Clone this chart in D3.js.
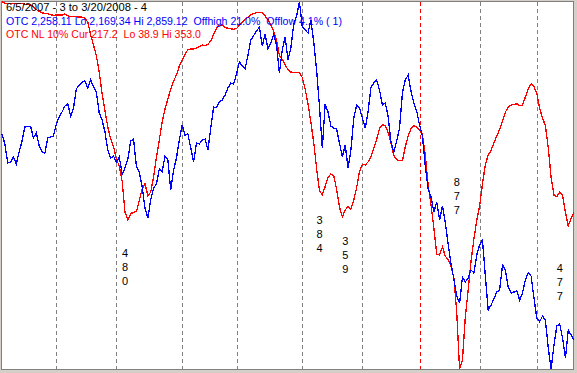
<!DOCTYPE html>
<html><head><meta charset="utf-8">
<script src="https://cdn.jsdelivr.net/npm/d3@7"></script>
<style>html,body{margin:0;padding:0;background:#d4d0c8;overflow:hidden}text{white-space:pre}</style>
</head><body>
<svg id="c" width="577" height="373"></svg>
<script>
// Trading-day index 0 = 6/5/2007 ... 200 = 3/20/2008
const monthStarts = [19, 40, 63, 82, 105, 126, 146, 167, 187]; // Jul 2, Aug 1, Sep 4, Oct 1, Nov 1, Dec 3, Jan 2, Feb 1, Mar 3
const monthNames = ["Jul","Aug","Sep","Oct","Nov","Dec","Jan","Feb","Mar"];
const yearStart = 146;

const otc = [
2611.0,2592.2,2556.5,2558.4,2567.8,2554.6,2577.2,2597.8,2624.2,2624.7,
2625.3,2603.5,2612.9,2588.5,2577.2,2575.3,2603.5,2605.4,2607.2,2629.8,
2643.0,2652.4,2663.6,2667.4,2644.8,2659.9,2695.6,2703.1,2708.7,2710.6,
2697.5,2712.5,2699.9,2689.9,2650.5,2637.3,2614.8,2580.9,2565.9,2569.7,
2558.4,2567.8,2535.8,2547.1,2564.0,2597.8,2601.6,2549.5,2539.6,2512.0,
2471.9,2453.1,2487.0,2509.5,2517.0,2545.2,2540.1,2569.7,2562.1,2505.8,
2543.3,2565.9,2599.7,2627.9,2609.1,2611.0,2584.7,2558.4,2594.1,2592.2,
2599.7,2601.6,2580.9,2622.3,2661.8,2660.5,2671.1,2674.9,2684.3,2697.5,
2706.9,2705.0,2723.8,2746.3,2738.8,2733.2,2759.5,2787.7,2796.1,2804.6,
2812.1,2776.4,2799.0,2770.8,2782.0,2798.2,2778.3,2725.7,2768.9,2793.3,
2750.1,2772.6,2817.8,2832.8,2859.12,2812.1,2806.5,2800.8,2825.3,2783.9,
2731.3,2663.6,2584.7,2667.4,2652.4,2626.0,2622.3,2620.8,2594.1,2567.8,
2590.3,2547.1,2580.9,2641.1,2665.5,2659.9,2641.1,2622.3,2652.4,2699.3,
2706.9,2712.5,2693.7,2665.5,2669.3,2644.8,2596.0,2577.2,2597.8,2622.3,
2688.1,2712.5,2721.9,2691.8,2669.3,2654.2,2627.9,2607.2,2550.9,2507.6,
2492.6,2464.4,2483.2,2449.4,2475.7,2443.7,2404.3,2366.7,2338.5,2306.5,
2293.4,2342.2,2332.8,2340.4,2355.4,2349.8,2383.6,2402.4,2411.8,2344.1,
2280.2,2289.6,2300.9,2314.0,2317.8,2364.8,2355.4,2323.4,2312.2,2314.0,
2315.9,2299.0,2312.2,2336.6,2349.8,2344.1,2302.8,2265.2,2258.2,2268.9,
2261.4,2208.8,2169.34,2214.4,2250.1,2253.9,2227.6,2190.0,2242.6,2233.2,
2223.8];

const otcNL = [
353.0,352.0,351.9,351.9,351.9,351.8,351.8,351.6,351.1,350.8,
350.3,348.9,346.5,344.9,343.8,343.2,342.9,342.3,341.4,341.9,
341.9,341.8,342.7,341.4,340.4,340.4,340.3,340.2,340.0,339.1,
335.9,324.8,316.2,306.8,293.1,274.3,259.7,246.0,235.7,229.3,
218.6,212.6,199.8,173.3,166.4,172.0,172.9,173.7,183.1,192.9,
197.8,187.0,190.4,203.2,220.3,234.9,250.3,261.4,270.0,278.5,
285.4,290.5,298.2,303.4,308.5,312.3,312.8,312.7,313.6,314.9,
316.2,315.8,316.8,319.6,325.2,330.3,333.1,333.3,331.2,330.5,
330.1,329.6,330.3,332.9,335.9,338.4,340.0,341.9,343.2,343.9,
344.2,343.6,341.0,338.0,333.3,327.8,320.0,307.2,303.8,299.1,
295.2,293.1,292.7,292.5,292.4,288.4,278.5,265.7,249.9,232.7,
210.5,191.7,187.8,195.1,202.8,205.8,204.1,192.9,177.5,169.0,
175.0,178.0,175.7,183.5,194.2,207.9,214.1,213.5,216.1,220.3,
227.6,235.3,244.9,248.0,247.3,241.5,232.7,221.6,218.1,217.2,
217.1,228.9,238.3,244.5,247.2,246.0,243.4,239.6,222.0,196.4,
179.3,159.6,137.3,136.5,143.3,135.6,132.2,127.0,116.8,87.7,
38.9,46.6,83.4,106.5,131.3,150.2,166.4,178.4,197.2,213.9,
222.0,225.9,232.7,238.1,243.9,251.4,258.6,263.3,264.7,265.3,
265.9,264.2,264.6,271.7,278.8,283.0,280.8,274.6,261.8,253.5,
247.3,228.0,203.0,187.8,186.5,190.1,187.8,173.3,161.3,168.1,
172.8];

const headerLines = [
  "6/5/2007 - 3 to 3/20/2008 - 4",
  "OTC 2,258.11 Lo 2,169.34 Hi 2,859.12  Offhigh 21.0%  Offlow 4.1% ( 1)",
  "OTC NL 10% Cur 217.2  Lo 38.9 Hi 353.0"
];
const headerColors = ["#000000", "#0000ff", "#ff0000"];

const annoLabels = ["480", "384", "359", "877", "477"];
const annoIdx = [43, 111, 120, 159, 195];
const annoLevel = [138.2, 166.4, 148.7, 199.2, 125.1]; // on the NL scale

const otcLo = 2169.34, otcHi = 2859.12, nlLo = 38.9, nlHi = 353.0;

const W = 577, H = 373;
const svg = d3.select("#c");
svg.append("rect").attr("x", 0).attr("y", 0).attr("width", W).attr("height", H).attr("fill", "#d4d0c8");
svg.append("rect").attr("x", 1.5).attr("y", 1.5).attr("width", 572).attr("height", 368)
  .attr("fill", "#ffffff").attr("stroke", "#808080").attr("stroke-width", 1);

const x = d3.scaleLinear().domain([0, otc.length - 1]).range([2, 574]);
const yB = d3.scaleLinear().domain([otcLo, otcHi]).range([369, 2]);
const yR = d3.scaleLinear().domain([nlLo, nlHi]).range([369, 2]);

// month gridlines
svg.append("g").selectAll("line").data(monthStarts).join("line")
  .attr("x1", d => Math.round(x(d)) + 0.5).attr("x2", d => Math.round(x(d)) + 0.5)
  .attr("y1", 2).attr("y2", 369)
  .attr("stroke", d => d === yearStart ? "#ff0000" : "#808080")
  .attr("stroke-width", 1).attr("stroke-dasharray", "4,3")
  .attr("shape-rendering", "crispEdges");

const line = (ys) => d3.line().x((d, i) => x(i)).y(d => ys(d));

svg.append("path").datum(otcNL).attr("d", line(yR))
  .attr("fill", "none").attr("stroke", "#ff0000").attr("stroke-width", 1.3)
  .attr("shape-rendering", "crispEdges");
svg.append("path").datum(otc).attr("d", line(yB))
  .attr("fill", "none").attr("stroke", "#0000ff").attr("stroke-width", 1.3)
  .attr("shape-rendering", "crispEdges");

// header
const lens = [141, 336, 195];
const base = [11, 25, 38];
headerLines.forEach((t, k) => {
  svg.append("text").attr("x", 6).attr("y", base[k]).text(t)
    .attr("fill", headerColors[k]).attr("font-family", "Liberation Sans, Arial, sans-serif")
    .attr("font-size", 11).attr("textLength", lens[k]).attr("lengthAdjust", "spacingAndGlyphs");
});

// stacked annotation digits
annoLabels.forEach((lab, k) => {
  lab.split("").forEach((ch, j) => {
    svg.append("text").attr("x", x(annoIdx[k])).attr("y", yR(annoLevel[k]) + j * 14 + 4)
      .attr("text-anchor", "middle").attr("fill", "#000")
      .attr("font-family", "Liberation Sans, Arial, sans-serif").attr("font-size", 11)
      .text(ch);
  });
});
</script>
</body></html>
